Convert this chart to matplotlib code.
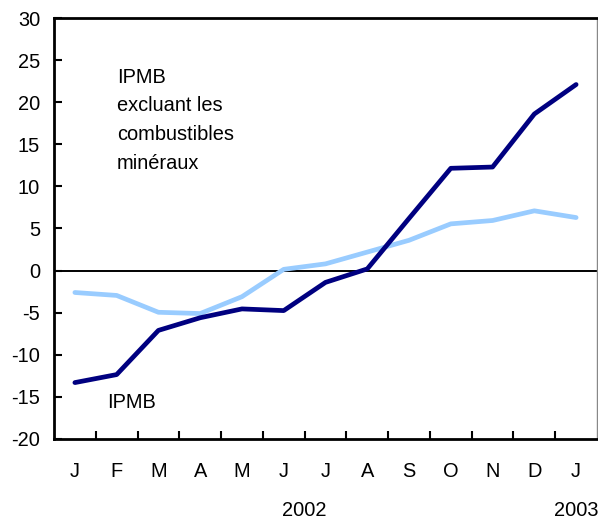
import matplotlib
matplotlib.use("Agg")
import matplotlib.pyplot as plt
import numpy as np

months = ["J", "F", "M", "A", "M", "J", "J", "A", "S", "O", "N", "D", "J"]
ipmb = [-13.3, -12.35, -7.1, -5.6, -4.55, -4.75, -1.4, 0.2, 6.2, 12.15, 12.3, 18.6, 22.1]
ipmb_excl = [-2.6, -2.95, -4.95, -5.1, -3.1, 0.15, 0.8, 2.2, 3.6, 5.55, 5.95, 7.1, 6.3]
years = ["2002", "2003"]
year_pos = [5.5, 12]
yticks = [-20, -15, -10, -5, 0, 5, 10, 15, 20, 25, 30]

plt.rcParams['font.family'] = ['Liberation Sans', 'DejaVu Sans']
FS = 14.4

fig = plt.figure(figsize=(5.98, 5.21), dpi=100)
ax = fig.add_axes([54/598, 1-439/521, 543/598, (439-18)/521])

x = np.arange(len(months))
ax.plot(x, ipmb_excl, color='#99CCFF', lw=3.4, solid_capstyle='round', zorder=3)
ax.plot(x, ipmb, color='#000080', lw=3.4, solid_capstyle='round', zorder=4)
ax.axhline(0, color='black', lw=1.4, zorder=2)

ax.set_xlim(-0.5, len(months) - 0.5)
ax.set_ylim(-20, 30)

ax.set_yticks(yticks)
ax.set_yticklabels([str(v) for v in yticks], fontsize=FS)
ax.tick_params(axis='y', direction='in', length=6, width=1.5, pad=10)

ax.set_xticks(np.arange(0.5, len(months) - 1, 1))
ax.set_xticklabels([])
ax.tick_params(axis='x', direction='in', length=6, width=1.5)
for i, m in enumerate(months):
    ax.text(i, -0.078, m, transform=ax.get_xaxis_transform(), ha='center', va='center', fontsize=FS)
for p, yl in zip(year_pos, years):
    ax.text(p, -0.171, yl, transform=ax.get_xaxis_transform(), ha='center', va='center', fontsize=FS)

for s in ['left', 'bottom', 'top']:
    ax.spines[s].set_linewidth(2)
    ax.spines[s].set_color('black')
ax.spines['right'].set_linewidth(1)
ax.spines['right'].set_color('#888888')

ax.text(1.0, 24.1, "IPMB\nexcluant les\ncombustibles\nminéraux", ha='left', va='top', fontsize=FS, linespacing=1.65)
ax.text(0.76, -15.7, "IPMB", ha='left', va='center', fontsize=FS)

fig.savefig("out.png", dpi=100)
